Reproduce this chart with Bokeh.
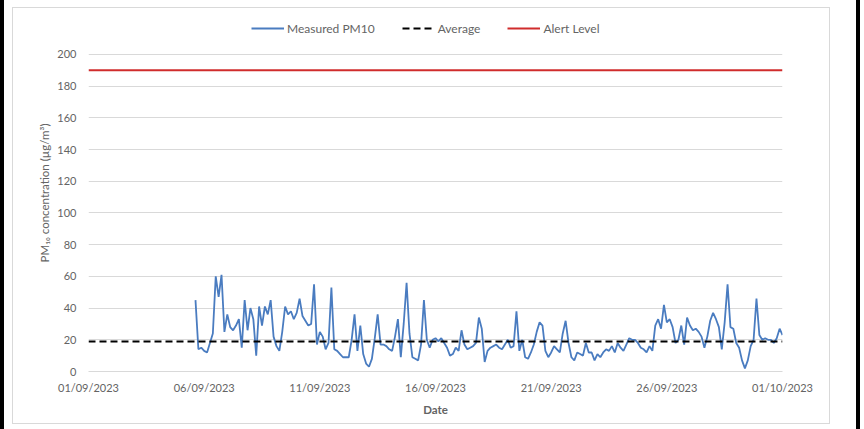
import pandas as pd
from bokeh.plotting import figure
from bokeh.layouts import column
from bokeh.models import Legend, LegendItem, FixedTicker, Range1d
from bokeh.embed import file_html
from bokeh.resources import INLINE

# ---- data ----
start_time = "2023-09-05 15:00"
step = "3h"
pm10 = [45, 14, 15, 13, 12, 18, 24, 60, 47, 61, 25, 36, 28, 26, 29, 33, 15, 45, 26, 40,
        33, 10, 41, 29, 41, 36, 45, 22, 16, 13, 25, 41, 36, 38, 33, 37, 46, 35, 32, 29,
        30, 55, 17, 25, 22, 14, 18, 53, 14, 13, 11, 9, 9, 9, 20, 36, 13, 29, 11, 5,
        3, 8, 21, 36, 17, 17, 16, 14, 13, 22, 33, 9, 30, 56, 24, 9, 8, 7, 17, 45,
        20, 15, 20, 21, 19, 21, 18, 15, 10, 11, 15, 13, 26, 17, 14, 15, 16, 18, 34, 27,
        6, 13, 15, 16, 17, 15, 14, 17, 20, 15, 16, 38, 13, 20, 9, 8, 12, 17, 25, 31,
        29, 13, 9, 12, 16, 14, 12, 24, 32, 18, 9, 7, 12, 11, 10, 18, 12, 12, 7, 11,
        9, 12, 14, 13, 16, 12, 18, 15, 13, 17, 21, 20, 20, 18, 15, 14, 12, 16, 13, 29,
        33, 27, 42, 31, 33, 28, 18, 20, 29, 17, 34, 29, 26, 27, 25, 22, 15, 22, 32, 37,
        33, 28, 14, 31, 55, 28, 27, 18, 15, 7, 2, 7, 16, 20, 46, 23, 20, 21, 20, 20,
        18, 21, 27, 23]
average = 19
alert_level = 190
x_tick_labels = ["01/09/2023", "06/09/2023", "11/09/2023", "16/09/2023",
                 "21/09/2023", "26/09/2023", "01/10/2023"]
y_ticks = [0, 20, 40, 60, 80, 100, 120, 140, 160, 180, 200]

times = pd.date_range(start_time, periods=len(pm10), freq=step)
tick_dt = pd.to_datetime(x_tick_labels, format="%d/%m/%Y")
tick_ms = [t.value / 1e6 for t in tick_dt]

FONT = "Lato"
GREY = "#646464"

# headroom above the top tick so the legend can sit inside the plot frame
y_top = 225.2

p = figure(width=818, height=417, output_backend="svg", toolbar_location=None,
           x_axis_type="datetime",
           x_range=Range1d(tick_ms[0], tick_ms[-1]),
           y_range=Range1d(y_ticks[0], y_top),
           min_border_left=75, min_border_right=49, min_border_top=6,
           min_border_bottom=54,
           styles={"border": "1px solid #d9d9d9"})
p.outline_line_color = None
p.background_fill_color = "white"
p.border_fill_color = "white"

r_meas = p.line(times, pm10, line_color="#4A7CC0", line_width=1.8)
r_avg = p.line([tick_dt[0], tick_dt[-1]], [average, average], line_color="black",
               line_width=2, line_dash="7 4")
r_alert = p.line([tick_dt[0], tick_dt[-1]], [alert_level, alert_level],
                 line_color="#D02C2C", line_width=2)

# axes
p.xaxis.ticker = FixedTicker(ticks=tick_ms)
p.xaxis.major_label_overrides = {ms: lab for ms, lab in zip(tick_ms, x_tick_labels)}
p.yaxis.ticker = FixedTicker(ticks=y_ticks)
for ax in (p.xaxis[0], p.yaxis[0]):
    ax.major_tick_line_color = None
    ax.minor_tick_line_color = None
    ax.major_label_text_font = FONT
    ax.major_label_text_font_size = "11px"
    ax.major_label_text_color = GREY
    ax.axis_label_text_font = FONT
    ax.axis_label_text_color = GREY
    ax.axis_label_text_font_size = "11.5px"
    ax.axis_label_text_font_style = "bold"
p.xaxis.axis_line_color = "#d9d9d9"
p.yaxis.axis_line_color = None
p.xaxis.major_label_standoff = 3
p.yaxis.major_label_standoff = 6
p.xaxis.axis_label = "Date"
p.xaxis.axis_label_standoff = 6
p.yaxis.axis_label = "PM\u2081\u2080 concentration (\u00b5g/m\u00b3)"
p.yaxis.axis_label_text_font_style = "normal"
p.yaxis.axis_label_standoff = 3

p.xgrid.grid_line_color = None
p.ygrid.grid_line_color = "#d9d9d9"
p.ygrid.grid_line_width = 1

legend = Legend(items=[LegendItem(label="Measured PM10", renderers=[r_meas]),
                       LegendItem(label="Average", renderers=[r_avg]),
                       LegendItem(label="Alert Level", renderers=[r_alert])],
                orientation="horizontal", location=(163, 333),
                border_line_color=None, background_fill_alpha=0,
                label_text_font=FONT, label_text_font_size="12px",
                label_text_color=GREY, glyph_width=33, spacing=27,
                label_standoff=3, padding=4, margin=0)
p.add_layout(legend, "center")

page = column(p, styles={"border-left": "4px solid black",
                         "border-right": "4px solid black",
                         "padding-left": "8px", "padding-top": "7px",
                         "padding-right": "26px", "height": "429px"})

open("out.html", "w").write(file_html(page, INLINE))
